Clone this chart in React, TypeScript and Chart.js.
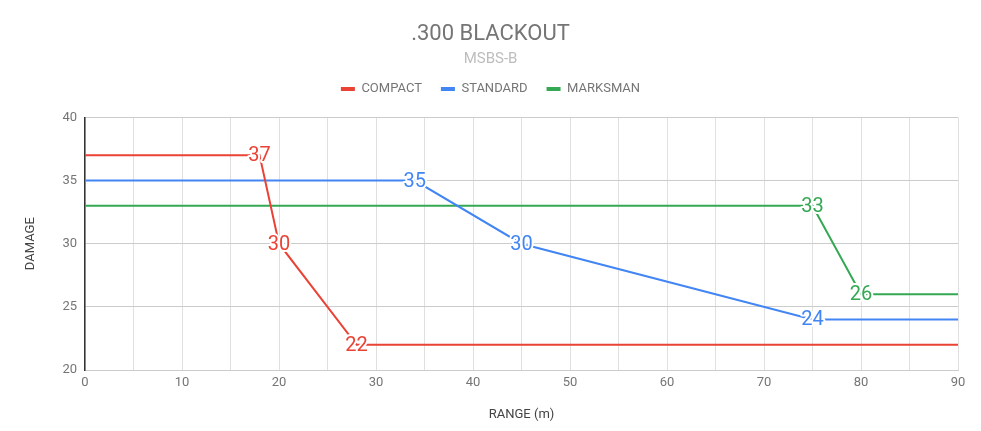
import { useEffect, useRef } from "react";
import { Chart, registerables } from "chart.js";

Chart.register(...registerables);

const seriesNames = ["COMPACT", "STANDARD", "MARKSMAN"];
const seriesColors = ["#ea4335", "#4285f4", "#34a853"];

const compactRange = [0, 18, 20, 28, 90];
const compactDamage = [37, 37, 30, 22, 22];

const standardRange = [0, 34, 45, 75, 90];
const standardDamage = [35, 35, 30, 24, 24];

const marksmanRange = [0, 75, 80, 90];
const marksmanDamage = [33, 33, 26, 26];

const xTicks = [0, 10, 20, 30, 40, 50, 60, 70, 80, 90];
const yTicks = [20, 25, 30, 35, 40];

const FONT = "Roboto, 'Noto Sans', sans-serif";

function toPoints(xs: number[], ys: number[]) {
  return xs.map((x, i) => ({ x, y: ys[i] }));
}

// draws the value at each break point (not the first / last), with a white halo
const breakLabels = {
  id: "breakLabels",
  afterDatasetsDraw(chart: any) {
    const ctx = chart.ctx;
    ctx.save();
    ctx.font = `20px ${FONT}`;
    ctx.textAlign = "center";
    ctx.textBaseline = "middle";
    ctx.lineJoin = "round";
    chart.data.datasets.forEach((ds: any, di: number) => {
      const meta = chart.getDatasetMeta(di);
      meta.data.forEach((pt: any, i: number) => {
        if (i === 0 || i === meta.data.length - 1) return;
        const txt = String(ds.data[i].y);
        ctx.strokeStyle = "#ffffff";
        ctx.lineWidth = 4;
        ctx.strokeText(txt, pt.x, pt.y + 1);
        ctx.fillStyle = ds.borderColor;
        ctx.fillText(txt, pt.x, pt.y + 1);
      });
    });
    ctx.restore();
  },
};

export default function App() {
  const ref = useRef<HTMLCanvasElement>(null);

  useEffect(() => {
    if (!ref.current) return;
    const all = [
      toPoints(compactRange, compactDamage),
      toPoints(standardRange, standardDamage),
      toPoints(marksmanRange, marksmanDamage),
    ];
    const chart = new Chart(ref.current, {
      type: "line",
      data: {
        datasets: all.map((data, i) => ({
          label: seriesNames[i],
          data,
          borderColor: seriesColors[i],
          backgroundColor: seriesColors[i],
          borderWidth: 2,
          pointRadius: 0,
          tension: 0,
        })),
      },
      options: {
        animation: false,
        responsive: false,
        devicePixelRatio: 1,
        layout: { padding: { left: 23, right: 23, top: 0, bottom: 8 } },
        plugins: {
          title: {
            display: true,
            text: ".300 BLACKOUT",
            color: "#757575",
            font: { family: FONT, size: 22, weight: "normal" },
            padding: { top: 21, bottom: 1 },
          },
          subtitle: {
            display: true,
            text: "MSBS-B",
            color: "#bdbdbd",
            font: { family: FONT, size: 15, weight: "normal" },
            padding: { top: 2, bottom: -5 },
          },
          legend: {
            display: true,
            labels: {
              color: "#757575",
              font: { family: FONT, size: 13 },
              boxWidth: 14,
              boxHeight: 4,
              padding: 19,
              generateLabels: (c: any) =>
                c.data.datasets.map((ds: any, i: number) => ({
                  text: ds.label,
                  fillStyle: ds.borderColor,
                  strokeStyle: ds.borderColor,
                  lineWidth: 0,
                  hidden: false,
                  datasetIndex: i,
                  fontColor: "#757575",
                })),
            },
          },
          tooltip: { enabled: false },
        },
        scales: {
          x: {
            type: "linear",
            min: 0,
            max: 90,
            afterBuildTicks: (axis: any) => {
              const t: any[] = [];
              for (let v = 0; v <= 90; v += 5) t.push({ value: v });
              axis.ticks = t;
            },
            afterFit: (axis: any) => {
              axis.height = 53;
            },
            ticks: {
              color: "#757575",
              font: { family: FONT, size: 13 },
              padding: 5,
              maxRotation: 0,
              autoSkip: false,
              callback: (v: any) => (xTicks.includes(Number(v)) ? String(v) : ""),
            },
            grid: { color: "#e0e0e0", drawTicks: false, lineWidth: 1 },
            border: { color: "#cccccc", width: 1 },
            title: {
              display: true,
              text: "RANGE (m)",
              color: "#444444",
              font: { family: FONT, size: 13 },
              padding: { top: 16, bottom: 0 },
            },
          },
          // empty top axis: only keeps a gap between the legend and the plot
          gap: {
            type: "linear",
            position: "top",
            min: 0,
            max: 90,
            ticks: { display: false },
            grid: { display: false },
            border: { display: false },
            afterFit: (axis: any) => {
              axis.height = 12;
            },
          },
          y: {
            type: "linear",
            min: 20,
            max: 40,
            afterBuildTicks: (axis: any) => {
              axis.ticks = yTicks.map((v) => ({ value: v }));
            },
            afterFit: (axis: any) => {
              axis.width = 62;
            },
            ticks: {
              color: "#757575",
              font: { family: FONT, size: 13 },
              padding: 8,
            },
            grid: { color: "#cccccc", drawTicks: false, lineWidth: 1 },
            border: { color: "#333333", width: 1.5 },
            title: {
              display: true,
              text: "DAMAGE",
              color: "#444444",
              font: { family: FONT, size: 13 },
              padding: { top: 0, bottom: 20 },
            },
          },
        },
      } as any,
      plugins: [breakLabels],
    });
    return () => chart.destroy();
  }, []);

  return (
    <div style={{ position: "fixed", left: 0, top: 0, width: 981, height: 431, background: "#fff" }}>
      <canvas ref={ref} width={981} height={431} />
    </div>
  );
}
